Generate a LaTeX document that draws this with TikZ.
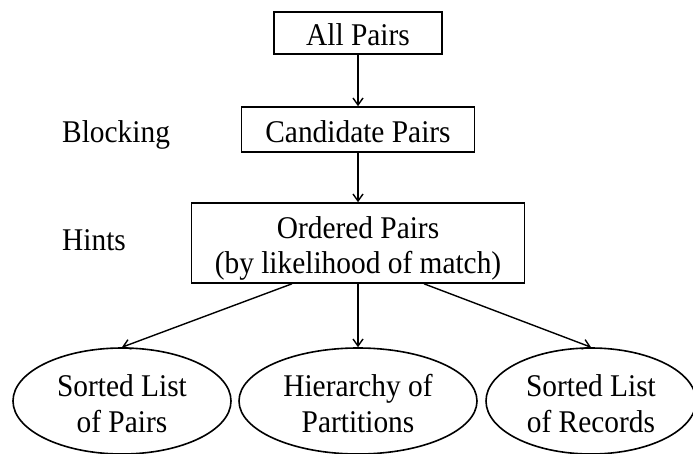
\documentclass[tikz,border=0pt]{standalone}
\usepackage{fontspec}
\setmainfont[FakeStretch=0.93]{Liberation Serif}
\usetikzlibrary{shapes.geometric,arrows.meta,calc}

\begin{document}
\begin{tikzpicture}[x=1pt, y=-1pt]
      \tikzstyle{STY1} = [draw, rectangle, line width=1.6pt, inner sep=0pt, text height=26pt, text depth=0pt, align=center, font=\fontsize{31.6}{35}\selectfont]
      \tikzstyle{STY2} = [-{Straight Barb[length=7pt,width=10pt]}, line width=1.4pt]
      \tikzstyle{STY3} = [draw, ellipse, line width=1.6pt, inner sep=0pt, minimum height=106pt, text height=63pt, text depth=0pt, align=center, font=\fontsize{31.6}{36}\selectfont]
      \tikzstyle{STY4} = [anchor=base west, inner sep=0pt, font=\fontsize{31.6}{35}\selectfont]

      \useasboundingbox (0, 0) rectangle (693, 454);

      %%%%% VERTEX

      \node[STY1, minimum width=168pt, minimum height=42pt](v1) at (358, 33) {All Pairs};
      \node[STY1, minimum width=233pt, minimum height=45pt](v2) at (358, 129.5) {Candidate Pairs};
      \node[STY1, minimum width=333pt, minimum height=80pt, text height=61pt](v3) at (358, 243) {Ordered Pairs\\(by likelihood of match)};

      \node[STY3, minimum width=218pt](v4) at (122, 401) {Sorted List\\of Pairs};
      \node[STY3, minimum width=238pt](v5) at (358, 401) {Hierarchy of\\Partitions};
      \node[STY3, minimum width=210pt](v6) at (591, 401) {Sorted List\\of Records};

      \node[STY4](v7) at (62, 143) {Blocking};
      \node[STY4](v8) at (62, 251) {Hints};

      %%%%% EDGES

      \draw[STY2]  (v1) edge (v2);
      \draw[STY2]  (v2) edge (v3);
      \draw[STY2]  ($(v3.south)+(-66,0)$) -- (v4.north);
      \draw[STY2]  (v3) edge (v5);
      \draw[STY2]  ($(v3.south)+(66,0)$) -- (v6.north);
    \end{tikzpicture}
\end{document}
